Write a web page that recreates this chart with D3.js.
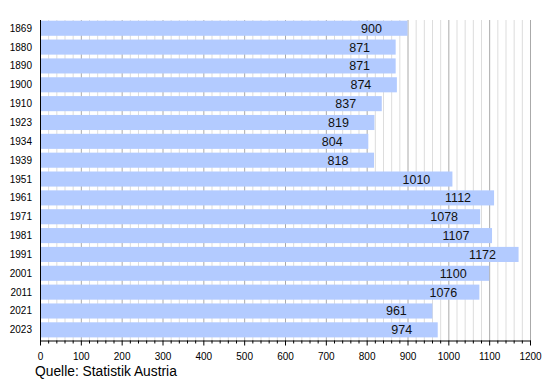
<!DOCTYPE html>
<html><head><meta charset="utf-8">
<script src="https://cdn.jsdelivr.net/npm/d3@7"></script>
<style>body{margin:0;background:#fff}svg{display:block;font-family:"Liberation Sans",Arial,sans-serif}</style>
</head><body>
<svg id="c" width="550" height="380"></svg>
<script>
const years = ["1869","1880","1890","1900","1910","1923","1934","1939","1951","1961","1971","1981","1991","2001","2011","2021","2023"];
const values = [900,871,871,874,837,819,804,818,1010,1112,1078,1107,1172,1100,1076,961,974];
const xTicks = [0,100,200,300,400,500,600,700,800,900,1000,1100,1200];
const source = "Quelle: Statistik Austria";

const svg = d3.select("#c");
const x = d3.scaleLinear().domain([0,1200]).range([40,530]);
const y = d3.scaleBand().domain(years).range([20.7, 341.15]).paddingInner(0.2).paddingOuter(0.1).align(0);
const yTop = 20, yBot = 340.5;

const minor = d3.range(0,1201,20).filter(v => v % 100 !== 0);
svg.append("g").selectAll("line").data(minor).join("line")
  .attr("x1", d=>x(d)+0.5).attr("x2", d=>x(d)+0.5).attr("y1", yTop).attr("y2", yBot)
  .attr("stroke", "#dddddd").attr("stroke-width", 1);
svg.append("g").selectAll("line").data(xTicks.slice(1)).join("line")
  .attr("x1", d=>x(d)+0.5).attr("x2", d=>x(d)+0.5).attr("y1", yTop).attr("y2", yBot)
  .attr("stroke", "#aaaaaa").attr("stroke-width", 1);

svg.append("g").selectAll("rect").data(years).join("rect")
  .attr("x", x(0)).attr("y", d=>y(d)).attr("width", (d,i)=>x(values[i])-x(0)).attr("height", y.bandwidth())
  .attr("fill", "#b3cbff");

svg.append("g").selectAll("text").data(years).join("text")
  .attr("x", (d,i)=>x(values[i])-36).attr("y", d=>y(d)+y.bandwidth()/2).attr("dy","0.36em")
  .attr("text-anchor","middle").attr("font-size", 12.5).attr("fill","#111")
  .text((d,i)=>values[i]);

// y axis
svg.append("line").attr("x1",40.5).attr("x2",40.5).attr("y1",yTop).attr("y2",yBot+0.5).attr("stroke","#000");
svg.append("g").selectAll("text").data(years).join("text")
  .attr("x", 32).attr("y", d=>y(d)+y.bandwidth()/2).attr("dy","0.35em")
  .attr("text-anchor","end").attr("font-size", 10).attr("fill","#000").text(d=>d);

// x axis
const xa = svg.append("g").attr("transform", `translate(0,${yBot})`);
xa.append("line").attr("x1",40).attr("x2",x(1200)+1).attr("y1",0.5).attr("y2",0.5).attr("stroke","#000");
xa.selectAll("line.mi").data(minor).join("line").attr("class","mi")
  .attr("x1", d=>x(d)+0.5).attr("x2", d=>x(d)+0.5).attr("y1",0).attr("y2",3).attr("stroke","#000");
xa.selectAll("line.ma").data(xTicks).join("line").attr("class","ma")
  .attr("x1", d=>x(d)+0.5).attr("x2", d=>x(d)+0.5).attr("y1",0).attr("y2",5).attr("stroke","#000");
xa.selectAll("text").data(xTicks).join("text")
  .attr("x", d=>x(d)+0.5).attr("y", 19.5).attr("text-anchor","middle").attr("font-size",10).attr("fill","#000").text(d=>d);

svg.append("text").attr("x",35).attr("y",376).attr("font-size",13.8).attr("fill","#000").text(source);
</script>
</body></html>
